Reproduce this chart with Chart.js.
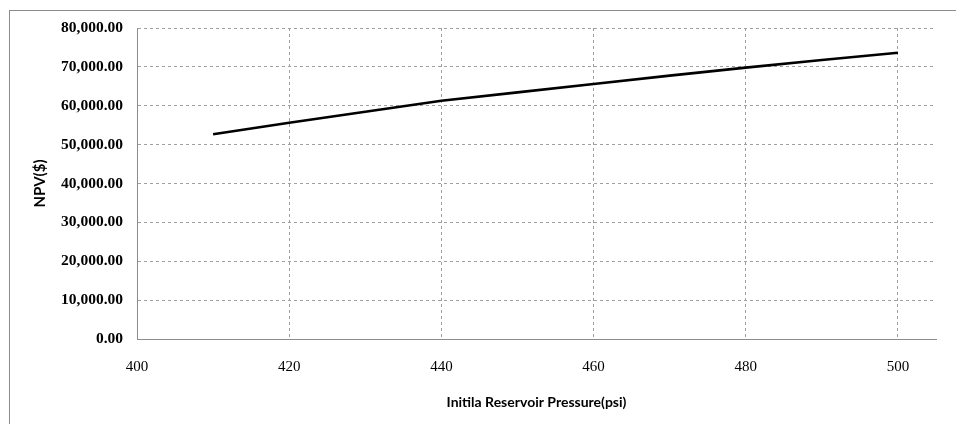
<!DOCTYPE html>
<html>
<head>
<meta charset="utf-8">
<script src="https://cdn.jsdelivr.net/npm/chart.js@4"></script>
<style>
  html, body { margin: 0; padding: 0; background: #fff; }
  #wrap { width: 956px; height: 424px; }
</style>
</head>
<body>
<div id="wrap"><canvas id="c" width="956" height="424"></canvas></div>
<script>
// Initial reservoir pressure (psi) and the resulting NPV ($)
const pressures = [410, 420, 430, 440, 450, 460, 470, 480, 490, 500];
const npvValues = [52650, 55650, 58450, 61300, 63450, 65600, 67750, 69800, 71750, 73650];
const xTicks = [400, 420, 440, 460, 480, 500];
const yTicks = [0, 10000, 20000, 30000, 40000, 50000, 60000, 70000, 80000];

const points = pressures.map((p, i) => ({ x: p, y: npvValues[i] }));

// Thin grey frame around the whole chart
const framePlugin = {
  id: 'frame',
  beforeDraw(chart) {
    const ctx = chart.ctx;
    ctx.save();
    ctx.fillStyle = '#ffffff';
    ctx.fillRect(0, 0, chart.width, chart.height);
    ctx.strokeStyle = '#8c8c8c';
    ctx.lineWidth = 1;
    ctx.strokeRect(9.5, 10.5, 1200, 1200);
    ctx.restore();
  }
};

const gridGrey = '#a0a0a0';
const axisGrey = '#8c8c8c';

new Chart(document.getElementById('c'), {
  type: 'line',
  data: {
    datasets: [{
      data: points,
      borderColor: '#000000',
      borderWidth: 2.6,
      pointRadius: 0,
      tension: 0,
      fill: false
    }]
  },
  plugins: [framePlugin],
  options: {
    responsive: false,
    animation: false,
    layout: { padding: { top: 28, right: 20, left: 0, bottom: 0 } },
    plugins: { legend: { display: false }, tooltip: { enabled: false } },
    scales: {
      x: {
        type: 'linear',
        min: 400,
        max: 505,
        afterBuildTicks(scale) { scale.ticks = xTicks.map(v => ({ value: v })); },
        afterFit(scale) { scale.height = 85; },
        grid: { color: gridGrey, lineWidth: 1, drawTicks: false },
        border: { display: true, color: axisGrey, width: 1, dash: [3, 3] },
        ticks: {
          padding: 19,
          color: '#000',
          font: { family: 'Liberation Serif', size: 15 },
          callback: v => String(v)
        },
        title: {
          display: true,
          text: 'Initila Reservoir Pressure(psi)',
          color: '#000',
          font: { family: 'Lato', size: 14, weight: 'bold' },
          padding: { top: 0, bottom: 13 }
        }
      },
      y: {
        min: 0,
        max: 80000,
        afterBuildTicks(scale) { scale.ticks = yTicks.map(v => ({ value: v })); },
        afterFit(scale) { scale.width = 137; },
        grid: { color: gridGrey, lineWidth: 1, drawTicks: false },
        border: { display: true, color: axisGrey, width: 1, dash: [3, 3] },
        ticks: {
          padding: 14,
          color: '#000',
          font: { family: 'Liberation Serif', size: 15.5, weight: 'bold' },
          callback: v => Number(v).toLocaleString('en-US', { minimumFractionDigits: 2, maximumFractionDigits: 2 })
        },
        title: {
          display: true,
          text: 'NPV($)',
          color: '#000',
          font: { family: 'Lato', size: 15, weight: 'bold' },
          padding: { top: 31, bottom: 0 }
        }
      }
    }
  }
});
</script>
</body>
</html>
